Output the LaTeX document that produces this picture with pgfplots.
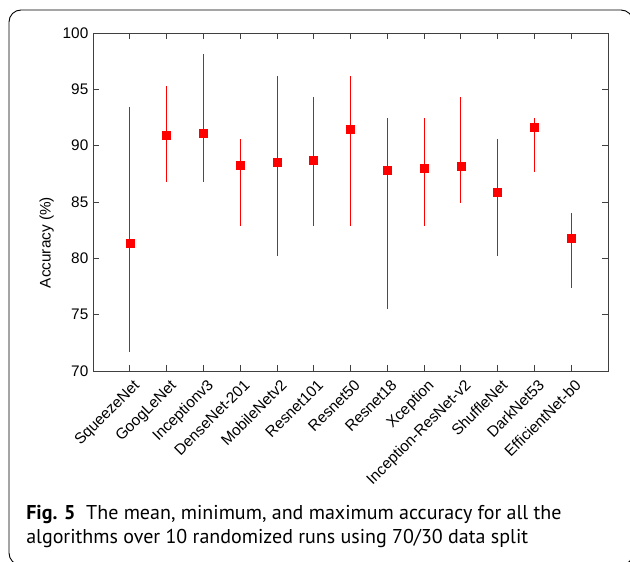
\documentclass[border=0pt]{standalone}
\usepackage{pgfplots}
\pgfplotsset{compat=1.18}
\usepackage{fontspec}
\setmainfont{Liberation Sans}
\newfontfamily\capfont{PT Sans}
\begin{document}
\begin{tikzpicture}
\useasboundingbox (0,0) rectangle (472.5pt,420.75pt);
\clip (0,0) rectangle (472.5pt,420.75pt);
\begin{axis}[
  at={(69.75pt,142.5pt)}, anchor=south west,
  scale only axis, width=386.25pt, height=253.5pt,
  xmin=0, xmax=14, ymin=70, ymax=100,
  xtick={1,...,13},
  xticklabels={SqueezeNet,GoogLeNet,Inceptionv3,DenseNet-201,MobileNetv2,Resnet101,Resnet50,Resnet18,Xception,Inception-ResNet-v2,ShuffleNet,DarkNet53,EfficientNet-b0},
  ytick={70,75,...,100},
  tick align=inside, tick pos=both,
  major tick length=4.5pt,
  axis line style={black!75, line width=0.6pt},
  tick style={black!75, line width=0.6pt},
  tick label style={font=\fontsize{11.5}{13}\selectfont},
  /pgf/number format/assume math mode=true,
  x tick label style={rotate=45, anchor=north east, yshift=-2pt, xshift=1pt},
  ylabel={Accuracy (\%)},
  every axis y label/.style={at={(axis description cs:-0.09,0.38)}, rotate=90, anchor=center, font=\fontsize{11.5}{13}\selectfont},
  clip=false,
]
\addplot[only marks, mark=square*, mark size=3pt, color=red,
  error bars/.cd, y dir=both, y explicit, error mark=none,
  error bar style={red, line width=0.6pt}]
coordinates {
(1,81.3) += (0,12.1) -= (0,9.6)
(2,90.9) += (0,4.4) -= (0,4.1)
(3,91.1) += (0,7.0) -= (0,4.3)
(4,88.3) += (0,2.3) -= (0,5.4)
(5,88.5) += (0,7.7) -= (0,8.3)
(6,88.7) += (0,5.6) -= (0,5.8)
(7,91.5) += (0,4.7) -= (0,8.6)
(8,87.8) += (0,4.7) -= (0,12.3)
(9,88.0) += (0,4.5) -= (0,5.1)
(10,88.2) += (0,6.1) -= (0,3.3)
(11,85.9) += (0,4.7) -= (0,5.7)
(12,91.6) += (0,0.9) -= (0,3.9)
(13,81.8) += (0,2.2) -= (0,4.4)
};
\end{axis}
\begin{scope}[x=0.75pt,y=0.75pt]
\draw[black, line width=0.7pt, rounded corners=9pt] (9,-4) rectangle (633,551);
\node[anchor=base west, inner sep=0pt, font=\capfont\fontsize{15}{17}\selectfont] at (26,42) {\textbf{Fig. 5}\ \ The mean, minimum, and maximum accuracy for all the};
\node[anchor=base west, inner sep=0pt, font=\capfont\fontsize{15}{17}\selectfont] at (26,18) {algorithms over 10 randomized runs using 70/30 data split};
\end{scope}
\end{tikzpicture}
\end{document}
